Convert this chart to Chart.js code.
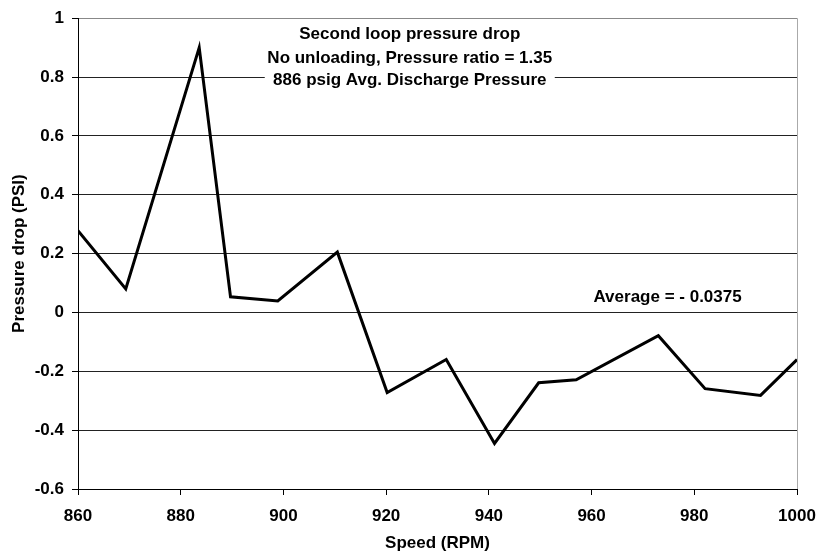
<!DOCTYPE html>
<html>
<head>
<meta charset="utf-8">
<script src="https://cdn.jsdelivr.net/npm/chart.js@4/dist/chart.umd.min.js"></script>
<style>
	html, body { margin: 0; padding: 0; background: #fff; }
	#wrap { width: 816px; height: 555px; }
</style>
</head>
<body>
<div id="wrap"><canvas id="pressure-chart"></canvas></div>
<script>
// speed readings (RPM) and the pressure drop measured at each
const speeds = [860, 869.3, 883.6, 889.7, 898.9, 910.5, 920.2, 931.7, 941.1, 949.7, 957, 973, 982.1, 992.9, 1000]
const pressureDrop = [0.278, 0.08, 0.9, 0.053, 0.039, 0.205, -0.272, -0.16, -0.445, -0.239, -0.229, -0.079, -0.259, -0.282, -0.16]

const titleLines = ['Second loop pressure drop', 'No unloading, Pressure ratio = 1.35', '886 psig Avg. Discharge Pressure']
const averageNote = 'Average = - 0.0375'

const fontFamily = '"Liberation Sans", Arial, Helvetica, sans-serif'

/*
Draws the text notes inside the plot
*/
const notesPlugin = {
	id: 'notes',
	afterDatasetsDraw(chart) {
		const ctx = chart.ctx
		const x = chart.scales.x
		const y = chart.scales.y
		ctx.save()
		ctx.font = 'bold 17px ' + fontFamily
		ctx.textAlign = 'center'
		ctx.textBaseline = 'middle'

		const cx = x.getPixelForValue(924.6)
		const lineY = [0.945, 0.862, 0.79].map(v => y.getPixelForValue(v))
		// white box behind the title block
		ctx.fillStyle = '#fff'
		ctx.fillRect(cx - 145, lineY[0] - 12, 290, lineY[2] - lineY[0] + 24)
		ctx.fillStyle = '#000'
		titleLines.forEach((t, i) => ctx.fillText(t, cx, lineY[i]))

		ctx.fillText(averageNote, x.getPixelForValue(974.8), y.getPixelForValue(0.05))
		ctx.restore()
	}
}

const chartCtx = document.getElementById('pressure-chart').getContext('2d')

const pressureChart = new Chart(chartCtx, {
	type: 'line',
	data: {
		datasets: [{
			data: speeds.map((s, i) => ({ x: s, y: pressureDrop[i] })),
			borderColor: '#000',
			borderWidth: 3,
			borderJoinStyle: 'miter',
			pointRadius: 0,
			tension: 0,
			fill: false
		}]
	},
	options: {
		responsive: true,
		maintainAspectRatio: false,
		animation: false,
		layout: { padding: { top: 15, right: 19, left: 0, bottom: 0 } },
		plugins: {
			legend: { display: false },
			tooltip: { enabled: false }
		},
		scales: {
			x: {
				type: 'linear',
				min: 860,
				max: 1000,
				afterFit: scale => {
					scale.height = 66
					scale.paddingLeft = 0
					scale.paddingRight = 0
				},
				ticks: {
					stepSize: 20,
					padding: 11,
					color: '#000',
					callback: v => String(v),
					font: { family: fontFamily, size: 17, weight: 'bold' }
				},
				grid: {
					color: c => c.index === 7 ? '#aaa' : 'rgba(0,0,0,0)',
					tickColor: '#000',
					tickLength: 6,
					lineWidth: 1
				},
				border: { color: '#000', width: 1 },
				title: {
					display: true,
					text: 'Speed (RPM)',
					color: '#000',
					padding: { top: 4, bottom: 1 },
					font: { family: fontFamily, size: 17, weight: 'bold' }
				}
			},
			y: {
				min: -0.6,
				max: 1,
				afterFit: scale => { scale.width = 78 },
				ticks: {
					stepSize: 0.2,
					padding: 8,
					color: '#000',
					callback: v => parseFloat(v.toFixed(1)),
					font: { family: fontFamily, size: 17, weight: 'bold' }
				},
				grid: {
					color: c => c.tick && c.tick.value === 1 ? '#888' : '#222',
					tickColor: '#000',
					tickLength: 6,
					lineWidth: 1
				},
				border: { color: '#000', width: 1 },
				title: {
					display: true,
					text: 'Pressure drop (PSI)',
					color: '#000',
					padding: { top: 9, bottom: 0 },
					font: { family: fontFamily, size: 17, weight: 'bold' }
				}
			}
		}
	},
	plugins: [notesPlugin]
})
</script>
</body>
</html>
